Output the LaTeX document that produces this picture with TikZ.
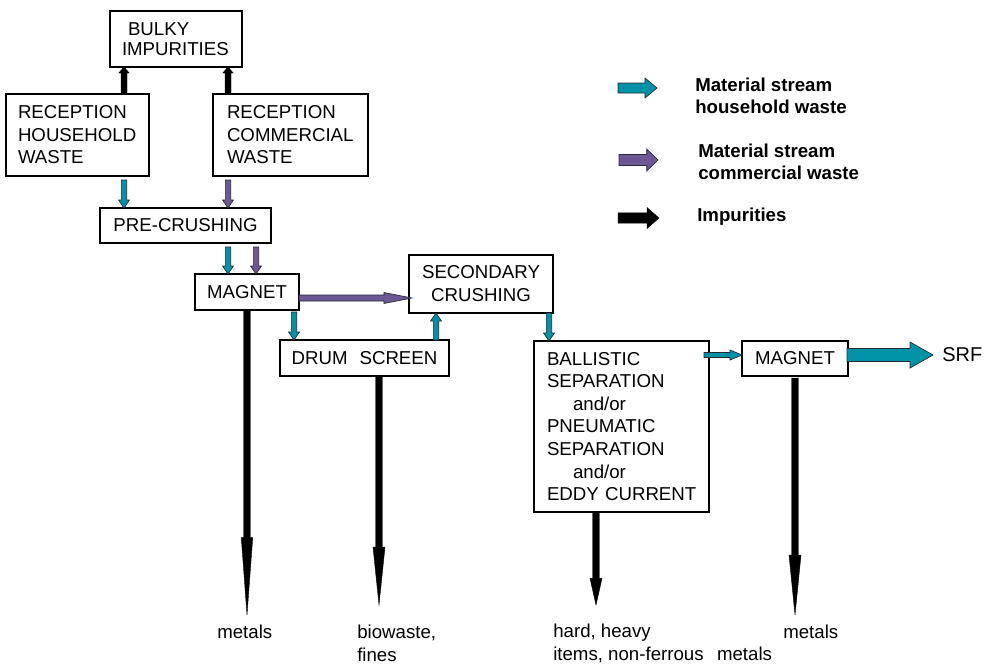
\documentclass[tikz,border=0pt]{standalone}
\usepackage{fontspec}
\setmainfont{Liberation Sans}
\usetikzlibrary{calc}
\definecolor{tealc}{RGB}{0,147,168}
\definecolor{purpc}{RGB}{107,88,148}
\definecolor{edgec}{RGB}{35,40,50}
% block arrow: #1 style, #2 start, #3 end, #4 half shaft, #5 half head, #6 head length
\newcommand\barrow[6]{%
  \coordinate (bh) at ($(#3)!#6!(#2)$);
  \filldraw[#1] ($(#2)!#4!90:(#3)$) -- ($(bh)!#4!90:(#3)$) -- ($(bh)!#5!90:(#3)$) -- (#3)
    -- ($(bh)!#5!-90:(#3)$) -- ($(bh)!#4!-90:(#3)$) -- ($(#2)!#4!-90:(#3)$) -- cycle;
}
\tikzset{
  box/.style={draw, line width=0.8pt, outer sep=0pt, inner ysep=0pt, font=\fontsize{14}{16.9}\selectfont},
  tealar/.style={fill=tealc, draw=edgec, line width=0.5pt, line join=miter},
  purpar/.style={fill=purpc, draw=edgec, line width=0.5pt, line join=miter},
  blackar/.style={fill=black, draw=black, line width=0.3pt, line join=miter},
  lbl/.style={anchor=west, inner sep=0pt, align=left, font=\fontsize{14}{17}\selectfont},
  leg/.style={anchor=west, inner sep=0pt, align=left, font=\bfseries\fontsize{14}{16.5}\selectfont}
}
\begin{document}
\begin{tikzpicture}[x=0.75pt, y=-0.75pt]
\useasboundingbox (0,0) rectangle (987,664);

% boxes
\node[box, minimum width=99pt, minimum height=42pt, inner xsep=9pt, text width=81pt, align=left,
      font=\fontsize{14}{15}\selectfont] (bk) at (176,39) {\hspace*{4.5pt}BULKY\\IMPURITIES};
\node[box, minimum width=107.25pt, minimum height=61.5pt, inner xsep=9pt, text width=89.25pt, align=left]
      (hh) at (77.5,135) {RECEPTION\\HOUSEHOLD\\WASTE};
\node[box, minimum width=116.25pt, minimum height=61.5pt, inner xsep=10.5pt, text width=95.25pt, align=left]
      (cw) at (290.5,135) {RECEPTION\\COMMERCIAL\\WASTE};
\node[box, minimum width=128.25pt, minimum height=26.25pt, align=center] (pc) at (185.5,225.5) {PRE-CRUSHING};
\node[box, minimum width=78pt, minimum height=27pt, align=center] (mg1) at (247,292) {MAGNET};
\node[box, minimum width=108pt, minimum height=43.5pt, align=center, font=\fontsize{14}{17.25}\selectfont]
      (sc) at (481,284) {SECONDARY\\CRUSHING};
\node[box, minimum width=126.75pt, minimum height=27pt, align=center] (ds) at (364.5,358) {DRUM\hspace{9pt}SCREEN};
\node[box, minimum width=131.25pt, minimum height=128.25pt, inner xsep=9.75pt, text width=111.75pt, align=left]
      (bs) at (621.5,426.5) {BALLISTIC\\SEPARATION\\\hspace*{19.5pt}and/or\\PNEUMATIC\\SEPARATION\\\hspace*{19.5pt}and/or\\\mbox{EDDY CURRENT}};
\node[box, minimum width=79.5pt, minimum height=26.25pt, align=center] (mg2) at (795,358.5) {MAGNET};
\node[anchor=west, inner sep=0pt, font=\fontsize{15}{18}\selectfont] (srf) at (942,355) {SRF};

% output labels
\node[lbl] (l1) at (217,632) {metals};
\node[lbl] (l2) at (357,643.5) {biowaste,\\fines};
\node[lbl] (l3) at (553,643.5) {hard, heavy\\items, non-ferrous\hspace{10pt}metals};
\node[lbl] (l4) at (783,632) {metals};

% legend
\node[leg] (t1) at (695,96) {Material stream\\household waste};
\node[leg] (t2) at (698,162) {Material stream\\commercial waste};
\node[leg] (t3) at (697,217) {Impurities};
\coordinate (k1s) at ($(t1.west)+(-77,-8)$);
\coordinate (k1e) at ($(t1.west)+(-38,-8)$);
\coordinate (k2s) at ($(t2.west)+(-79,-2)$);
\coordinate (k2e) at ($(t2.west)+(-40,-2)$);
\coordinate (k3s) at ($(t3.west)+(-79,1)$);
\coordinate (k3e) at ($(t3.west)+(-38,1)$);
\barrow{tealar}{k1s}{k1e}{3.75pt}{7.5pt}{9pt}
\barrow{purpar}{k2s}{k2e}{4.1pt}{8.25pt}{8.5pt}
\barrow{blackar}{k3s}{k3e}{3.9pt}{7.9pt}{9pt}

% impurities to bulky
\coordinate (b1s) at ($(hh.north east)+(-25,0)$);
\coordinate (b1e) at ($(bk.south west)+(14,0)$);
\coordinate (b2s) at ($(cw.north west)+(15,0)$);
\coordinate (b2e) at ($(bk.south west)+(118,0)$);
\barrow{blackar}{b1s}{b1e}{2.25pt}{3.9pt}{4.5pt}
\barrow{blackar}{b2s}{b2e}{2.25pt}{3.9pt}{4.5pt}

% reception -> pre-crushing
\coordinate (a1s) at ($(hh.south east)+(-25,4)$);
\coordinate (a1e) at ($(pc.north west)+(24,0)$);
\coordinate (p1s) at ($(cw.south west)+(15,4)$);
\coordinate (p1e) at ($(pc.north west)+(128,0)$);
\barrow{tealar}{a1s}{a1e}{2pt}{4.1pt}{6pt}
\barrow{purpar}{p1s}{p1e}{2pt}{4.1pt}{6pt}

% pre-crushing -> magnet
\coordinate (a2s) at ($(pc.south west)+(128,4)$);
\coordinate (a2e) at ($(mg1.north west)+(33,0)$);
\coordinate (p2s) at ($(pc.south west)+(156,4)$);
\coordinate (p2e) at ($(mg1.north west)+(61,0)$);
\barrow{tealar}{a2s}{a2e}{2pt}{4.1pt}{6pt}
\barrow{purpar}{p2s}{p2e}{2pt}{4.1pt}{6pt}

% magnet -> secondary crushing
\coordinate (p3s) at ($(mg1.south east)+(0,-12)$);
\coordinate (p3e) at ($(sc.south west)+(3,-15)$);
\barrow{purpar}{p3s}{p3e}{2.25pt}{4.1pt}{21pt}

% magnet -> drum screen
\coordinate (a3s) at ($(mg1.south east)+(-5,2)$);
\coordinate (a3e) at ($(ds.north west)+(14,0)$);
\barrow{tealar}{a3s}{a3e}{2pt}{4.1pt}{6pt}

% drum screen -> secondary crushing
\coordinate (a4s) at ($(ds.north west)+(156,0)$);
\coordinate (a4e) at ($(sc.south west)+(27,0)$);
\barrow{tealar}{a4s}{a4e}{2pt}{4.1pt}{6pt}

% secondary crushing -> ballistic
\coordinate (a5s) at ($(sc.south east)+(-4,0)$);
\coordinate (a5e) at ($(bs.north west)+(15,0)$);
\barrow{tealar}{a5s}{a5e}{2pt}{4.1pt}{6pt}

% ballistic -> magnet 2
\coordinate (a6s) at ($(bs.north east)+(-5,14)$);
\coordinate (a6e) at ($(mg2.north west)+(0,14)$);
\barrow{tealar}{a6s}{a6e}{1.9pt}{3.75pt}{9pt}

% magnet 2 -> SRF
\coordinate (a7s) at ($(mg2.north east)+(-1,14)$);
\coordinate (a7e) at ($(srf.west)+(-9,0)$);
\barrow{tealar}{a7s}{a7e}{4.9pt}{9.75pt}{17.25pt}

% impurities out (down)
\coordinate (m1s) at ($(mg1.south west)+(52,0)$);
\coordinate (m1e) at ($(mg1.south west)+(52,305)$);
\coordinate (d1s) at ($(ds.south west)+(99,0)$);
\coordinate (d1e) at ($(ds.south west)+(99,229)$);
\coordinate (e1s) at ($(bs.south west)+(62,0)$);
\coordinate (e1e) at ($(bs.south west)+(62,93)$);
\coordinate (g1s) at ($(mg2.south west)+(53,2)$);
\coordinate (g1e) at ($(mg2.south west)+(53,239)$);
\barrow{blackar}{m1s}{m1e}{2.6pt}{4.3pt}{58pt}
\barrow{blackar}{d1s}{d1e}{2.6pt}{4.5pt}{43.5pt}
\barrow{blackar}{e1s}{e1e}{2.6pt}{4.5pt}{20pt}
\barrow{blackar}{g1s}{g1e}{2.6pt}{4.5pt}{45pt}
\end{tikzpicture}
\end{document}
